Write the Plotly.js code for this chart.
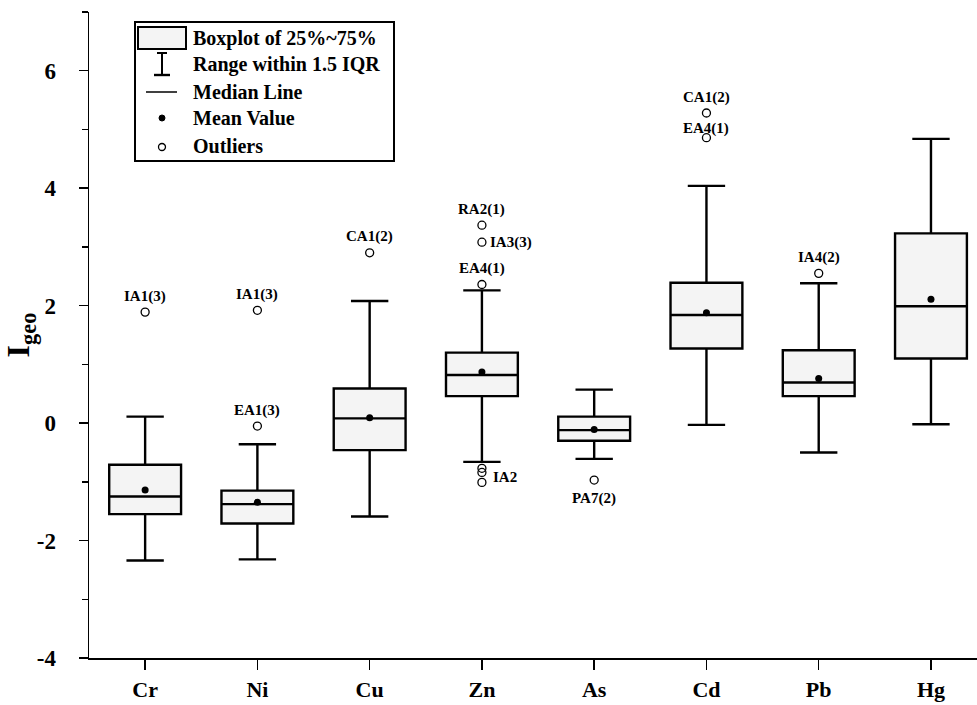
<!DOCTYPE html>
<html><head><meta charset="utf-8">
<script src="https://cdn.plot.ly/plotly-3.0.1.min.js"></script>
<style>html,body{margin:0;padding:0;background:#fff}</style>
</head><body><div id="chart" style="width:977px;height:705px"></div>
<script>
// ---- data ----
const elements = ['Cr','Ni','Cu','Zn','As','Cd','Pb','Hg'];
const q1 =            [-1.55,-1.71,-0.46, 0.46,-0.30, 1.27, 0.46, 1.10];
const medians =       [-1.25,-1.38, 0.08, 0.82,-0.12, 1.84, 0.69, 1.99];
const q3 =            [-0.71,-1.15, 0.59, 1.20, 0.11, 2.39, 1.24, 3.23];
const lowerWhisker =  [-2.34,-2.32,-1.59,-0.66,-0.61,-0.03,-0.50,-0.02];
const upperWhisker =  [ 0.11,-0.36, 2.08, 2.26, 0.57, 4.04, 2.38, 4.84];
const means =         [-1.14,-1.35, 0.09, 0.87,-0.11, 1.88, 0.76, 2.11];
const outlierElement = ['Cr','Ni','Ni','Cu','Zn','Zn','Zn','Zn','Zn','Zn','As','Cd','Cd','Pb'];
const outlierValue =   [1.89,1.92,-0.05,2.90,3.37,3.08,2.36,-0.77,-0.84,-1.01,-0.97,5.28,4.86,2.55];
const outlierLabel =   ['IA1(3)','IA1(3)','EA1(3)','CA1(2)','RA2(1)','IA3(3)','EA4(1)','','','IA2','PA7(2)','CA1(2)','EA4(1)','IA4(2)'];
const yTickVals = [-4, -2, 0, 2, 4, 6];
const yTickText = ['-4', '-2', '0', '2', '4', '6'];
const legendLabels = ['Boxplot of 25%~75%','Range within 1.5 IQR','Median Line','Mean Value','Outliers'];

// ---- styling (label placement per outlier) ----
const labelPlace = ['above','above','above','above','above','right','above','','','rightlow','below','above','over','above'];

const FONT = 'Liberation Serif, Times New Roman, serif';

const traces = [
  {
    type: 'box', x: elements, q1: q1, median: medians, q3: q3,
    lowerfence: lowerWhisker, upperfence: upperWhisker,
    boxpoints: false, width: 0.64, whiskerwidth: 0.52,
    fillcolor: '#f4f4f4', line: {color: '#000', width: 2.4},
    showlegend: false, hoverinfo: 'skip'
  },
  {
    type: 'scatter', mode: 'markers', x: elements, y: means,
    marker: {color: '#000', size: 7}, showlegend: false, hoverinfo: 'skip'
  },
  {
    type: 'scatter', mode: 'markers', x: outlierElement, y: outlierValue,
    marker: {symbol: 'circle-open', color: '#000', size: 8, line: {width: 1.3, color: '#000'}},
    showlegend: false, hoverinfo: 'skip'
  }
];

const annotations = [];
outlierLabel.forEach((t, i) => {
  if (!t) return;
  const p = labelPlace[i];
  const a = {x: outlierElement[i], y: outlierValue[i], xref: 'x', yref: 'y', text: t, showarrow: false,
    font: {family: FONT, size: 15, color: '#000', weight: 'bold'}};
  if (p === 'above') { a.yshift = 16; }
  else if (p === 'over') { a.yshift = 9; }
  else if (p === 'below') { a.yshift = -18; }
  else if (p === 'right') { a.xanchor = 'left'; a.xshift = 6; }
  else if (p === 'rightlow') { a.xanchor = 'left'; a.xshift = 9; a.yshift = 5; }
  annotations.push(a);
});

// legend drawn in pixel -> paper coordinates
const L = 89, R = 977, T = 12, B = 658;
const px = v => (v - L) / (R - L);
const py = v => (B - v) / (B - T);
const shapes = [
  {type: 'rect', xref: 'paper', yref: 'paper', x0: px(135), x1: px(394), y0: py(22), y1: py(161), line: {color: '#000', width: 2}, fillcolor: '#fff'},
  {type: 'rect', xref: 'paper', yref: 'paper', x0: px(138), x1: px(186), y0: py(27), y1: py(49), line: {color: '#000', width: 2}, fillcolor: '#f4f4f4'},
  {type: 'line', xref: 'paper', yref: 'paper', x0: px(162), x1: px(162), y0: py(53), y1: py(75), line: {color: '#000', width: 2}},
  {type: 'line', xref: 'paper', yref: 'paper', x0: px(157), x1: px(167), y0: py(53), y1: py(53), line: {color: '#000', width: 2}},
  {type: 'line', xref: 'paper', yref: 'paper', x0: px(154), x1: px(170), y0: py(75), y1: py(75), line: {color: '#000', width: 2.4}},
  {type: 'line', xref: 'paper', yref: 'paper', x0: px(146), x1: px(177), y0: py(92), y1: py(92), line: {color: '#000', width: 1.5}},
  {type: 'circle', xref: 'paper', yref: 'paper', x0: px(159), x1: px(165), y0: py(115), y1: py(121), line: {color: '#000', width: 1}, fillcolor: '#000'},
  {type: 'circle', xref: 'paper', yref: 'paper', x0: px(158.5), x1: px(165.5), y0: py(143.5), y1: py(150.5), line: {color: '#000', width: 1.3}, fillcolor: 'rgba(0,0,0,0)'}
];
const legendY = [38, 65, 92, 118, 146];
legendLabels.forEach((t, i) => {
  annotations.push({xref: 'paper', yref: 'paper', x: px(191), y: py(legendY[i]), xanchor: 'left', yanchor: 'middle',
    text: t, showarrow: false, font: {family: FONT, size: 20, color: '#000', weight: 'bold'}});
});

const layout = {
  width: 977, height: 705,
  margin: {l: L, r: 0, t: T, b: 705 - B},
  paper_bgcolor: '#fff', plot_bgcolor: '#fff',
  showlegend: false,
  font: {family: FONT, color: '#000'},
  xaxis: {
    type: 'category', range: [-0.5, 7.41], showgrid: false, zeroline: false,
    showline: true, linecolor: '#000', linewidth: 1.5,
    ticks: 'outside', ticklen: 10, tickwidth: 1.5, tickcolor: '#000',
    ticklabelstandoff: 1,
    tickfont: {family: FONT, size: 22, color: '#000', weight: 'bold'}
  },
  yaxis: {
    range: [-4, 7], tickmode: 'array', tickvals: yTickVals, ticktext: yTickText,
    showgrid: false, zeroline: false,
    showline: true, linecolor: '#000', linewidth: 1.5,
    ticks: 'outside', ticklen: 9, tickwidth: 1.5, tickcolor: '#000',
    ticklabelstandoff: 18,
    minor: {dtick: 1, tick0: -4, ticks: 'outside', ticklen: 6, tickwidth: 1.5, tickcolor: '#000', showgrid: false},
    tickfont: {family: FONT, size: 23, color: '#000', weight: 'bold'},
    title: {text: 'I<sub>geo</sub>', standoff: 10, font: {family: FONT, size: 32, color: '#000', weight: 'bold'}}
  },
  shapes: shapes,
  annotations: annotations
};

Plotly.newPlot('chart', traces, layout, {displayModeBar: false, staticPlot: true});
</script>
</body></html>
